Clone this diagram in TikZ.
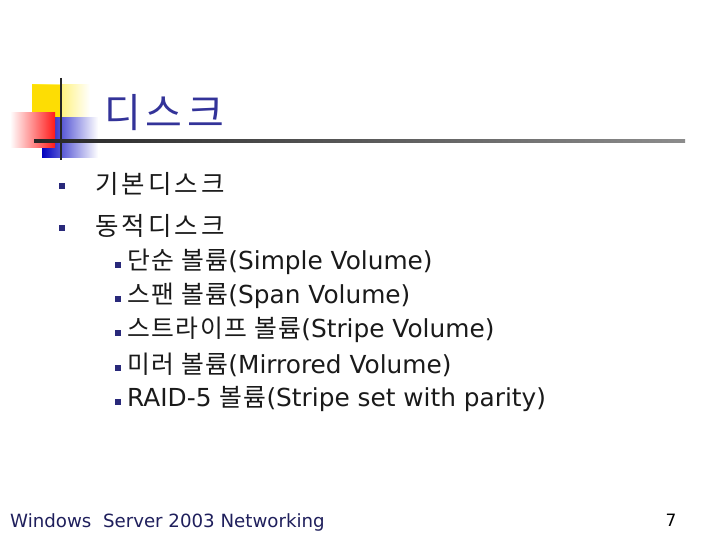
\documentclass[tikz,border=0pt]{standalone}
\usepackage{fontspec}
\setmainfont{DejaVu Sans}
\newfontfamily\kr[LetterSpace=6]{Noto Sans CJK KR}
\newfontfamily\kra[LetterSpace=12]{Noto Sans CJK KR}
\newfontfamily\krt[LetterSpace=12]{Noto Sans CJK KR}
\definecolor{navy}{HTML}{333399}
\definecolor{txt}{HTML}{1A1A1A}
\begin{document}
\begin{tikzpicture}[x=1pt,y=-1pt,
  b1/.style={fill=navy!80!black,minimum size=6pt,inner sep=0pt},
  t1/.style={anchor=west,font=\fontsize{25.5}{27}\selectfont,text=txt,inner sep=0pt},
  t2/.style={anchor=west,font=\fontsize{24.8}{26}\selectfont,text=txt,inner sep=0pt}]
\useasboundingbox (0,0) rectangle (720,540);
\fill[white] (0,0) rectangle (720,540);
\shade[left color=yellow!80!orange,right color=white] (32,85) rectangle (90,120);
\fill[yellow!80!orange] (32,85) rectangle (60,120);
\shade[left color=blue!75!black,right color=white] (42,118) rectangle (98,158);
\shade[left color=white,right color=red!90] (10,113) rectangle (55,148);
\draw[line width=2pt,black!85] (61,78) -- (61,160);
\shade[left color=black!85,right color=black!45] (34,140) rectangle (685,143);
\node[anchor=west,inner sep=0pt,text=navy,font=\krt\fontsize{40}{42}\selectfont] (title) at (104,113) {디스크};
\node[b1] (a1) at (62,186) {}; \node[t1] (l1) at (95,184) {\kra 기본디스크};
\node[b1] (a2) at (62,228) {}; \node[t1] (l2) at (95,226) {\kra 동적디스크};
\foreach \y/\t [count=\i] in {262/{{\kr 단순 볼륨}(Simple Volume)},296/{{\kr 스팬 볼륨}(Span Volume)},330/{{\kr 스트라이프 볼륨}(Stripe Volume)},365/{{\kr 미러 볼륨}(Mirrored Volume)},399/{RAID-5 {\kr 볼륨}(Stripe set with parity)}}{
  \node[b1,minimum size=5.5pt] (s\i) at (118,\y+3) {};
  \node[t2] (m\i) at (127,\y) {\t};
}
\node[anchor=west,inner sep=0pt,text=navy!60!black,font=\fontsize{18.2}{19}\selectfont] (foot) at (10,522) {Windows\ \ Server 2003 Networking};
\node[inner sep=0pt,text=black,font=\fontsize{17}{18}\selectfont] (pg) at (671,520) {7};
\end{tikzpicture}
\end{document}
